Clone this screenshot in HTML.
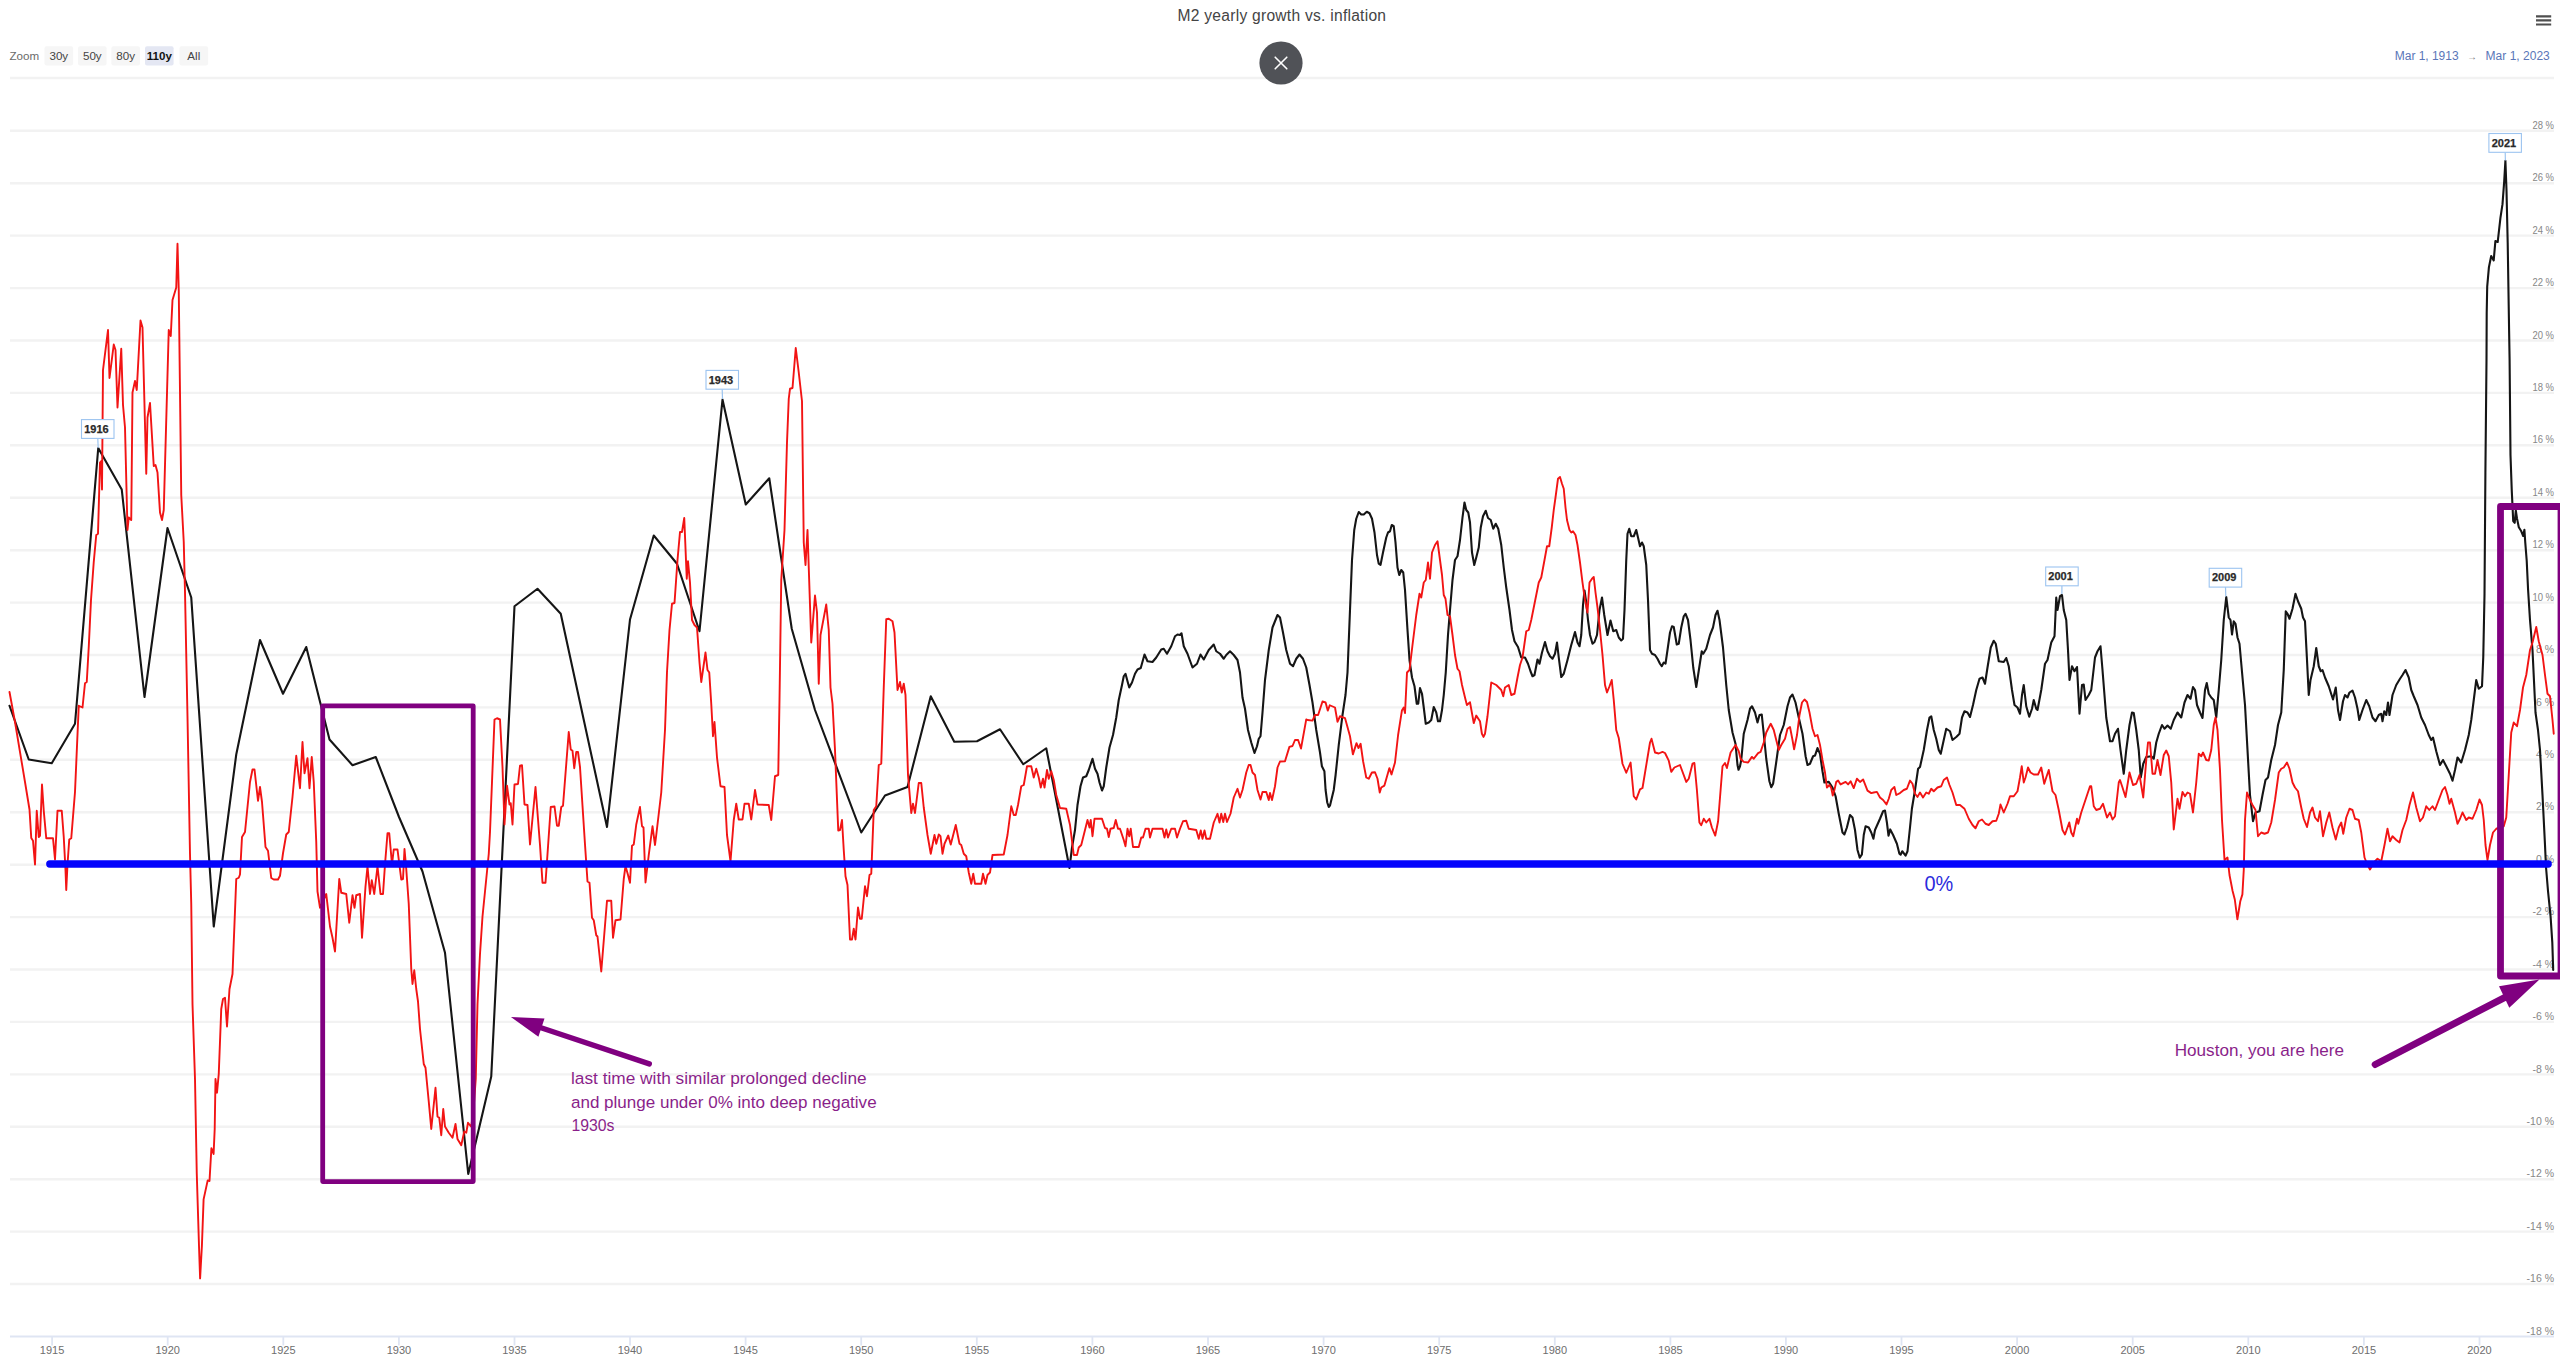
<!DOCTYPE html>
<html lang="en"><head><meta charset="utf-8"><title>M2 yearly growth vs. inflation</title>
<style>html,body{margin:0;padding:0;background:#fff;}body{width:2560px;height:1368px;overflow:hidden;}svg{display:block;font-family:"Liberation Sans", sans-serif;}</style>
</head><body>
<svg width="2560" height="1368" viewBox="0 0 2560 1368">
<rect x="0" y="0" width="2560" height="1368" fill="#ffffff"/>
<g stroke="#f2f2f2" stroke-width="2.4" fill="none">
<line x1="10" y1="78" x2="2554" y2="78"/>
<line x1="10" y1="130.8" x2="2554" y2="130.8"/>
<line x1="10" y1="183.2" x2="2554" y2="183.2"/>
<line x1="10" y1="235.6" x2="2554" y2="235.6"/>
<line x1="10" y1="288.1" x2="2554" y2="288.1"/>
<line x1="10" y1="340.5" x2="2554" y2="340.5"/>
<line x1="10" y1="392.9" x2="2554" y2="392.9"/>
<line x1="10" y1="445.3" x2="2554" y2="445.3"/>
<line x1="10" y1="497.7" x2="2554" y2="497.7"/>
<line x1="10" y1="550.2" x2="2554" y2="550.2"/>
<line x1="10" y1="602.6" x2="2554" y2="602.6"/>
<line x1="10" y1="655.0" x2="2554" y2="655.0"/>
<line x1="10" y1="707.4" x2="2554" y2="707.4"/>
<line x1="10" y1="759.8" x2="2554" y2="759.8"/>
<line x1="10" y1="812.3" x2="2554" y2="812.3"/>
<line x1="10" y1="864.7" x2="2554" y2="864.7"/>
<line x1="10" y1="917.1" x2="2554" y2="917.1"/>
<line x1="10" y1="969.5" x2="2554" y2="969.5"/>
<line x1="10" y1="1021.9" x2="2554" y2="1021.9"/>
<line x1="10" y1="1074.4" x2="2554" y2="1074.4"/>
<line x1="10" y1="1126.8" x2="2554" y2="1126.8"/>
<line x1="10" y1="1179.2" x2="2554" y2="1179.2"/>
<line x1="10" y1="1231.6" x2="2554" y2="1231.6"/>
<line x1="10" y1="1284.0" x2="2554" y2="1284.0"/>
</g>
<g stroke="#dfe5f3" stroke-width="1.8" fill="none">
<line x1="10" y1="1336.5" x2="2554" y2="1336.5"/>
<line x1="52.1" y1="1336.5" x2="52.1" y2="1345.5"/>
<line x1="167.7" y1="1336.5" x2="167.7" y2="1345.5"/>
<line x1="283.3" y1="1336.5" x2="283.3" y2="1345.5"/>
<line x1="398.9" y1="1336.5" x2="398.9" y2="1345.5"/>
<line x1="514.5" y1="1336.5" x2="514.5" y2="1345.5"/>
<line x1="630.0" y1="1336.5" x2="630.0" y2="1345.5"/>
<line x1="745.6" y1="1336.5" x2="745.6" y2="1345.5"/>
<line x1="861.2" y1="1336.5" x2="861.2" y2="1345.5"/>
<line x1="976.8" y1="1336.5" x2="976.8" y2="1345.5"/>
<line x1="1092.4" y1="1336.5" x2="1092.4" y2="1345.5"/>
<line x1="1208.0" y1="1336.5" x2="1208.0" y2="1345.5"/>
<line x1="1323.6" y1="1336.5" x2="1323.6" y2="1345.5"/>
<line x1="1439.2" y1="1336.5" x2="1439.2" y2="1345.5"/>
<line x1="1554.8" y1="1336.5" x2="1554.8" y2="1345.5"/>
<line x1="1670.4" y1="1336.5" x2="1670.4" y2="1345.5"/>
<line x1="1785.9" y1="1336.5" x2="1785.9" y2="1345.5"/>
<line x1="1901.5" y1="1336.5" x2="1901.5" y2="1345.5"/>
<line x1="2017.1" y1="1336.5" x2="2017.1" y2="1345.5"/>
<line x1="2132.7" y1="1336.5" x2="2132.7" y2="1345.5"/>
<line x1="2248.3" y1="1336.5" x2="2248.3" y2="1345.5"/>
<line x1="2363.9" y1="1336.5" x2="2363.9" y2="1345.5"/>
<line x1="2479.5" y1="1336.5" x2="2479.5" y2="1345.5"/>
</g>
<g font-size="11" fill="#6e6e6e" text-anchor="middle">
<text x="52.1" y="1354.3">1915</text>
<text x="167.7" y="1354.3">1920</text>
<text x="283.3" y="1354.3">1925</text>
<text x="398.9" y="1354.3">1930</text>
<text x="514.5" y="1354.3">1935</text>
<text x="630.0" y="1354.3">1940</text>
<text x="745.6" y="1354.3">1945</text>
<text x="861.2" y="1354.3">1950</text>
<text x="976.8" y="1354.3">1955</text>
<text x="1092.4" y="1354.3">1960</text>
<text x="1208.0" y="1354.3">1965</text>
<text x="1323.6" y="1354.3">1970</text>
<text x="1439.2" y="1354.3">1975</text>
<text x="1554.8" y="1354.3">1980</text>
<text x="1670.4" y="1354.3">1985</text>
<text x="1785.9" y="1354.3">1990</text>
<text x="1901.5" y="1354.3">1995</text>
<text x="2017.1" y="1354.3">2000</text>
<text x="2132.7" y="1354.3">2005</text>
<text x="2248.3" y="1354.3">2010</text>
<text x="2363.9" y="1354.3">2015</text>
<text x="2479.5" y="1354.3">2020</text>
</g>
<g font-size="10.5" fill="#878787" text-anchor="end">
<text x="2554" y="128.9" textLength="21.6" lengthAdjust="spacingAndGlyphs">28 %</text>
<text x="2554" y="181.3" textLength="21.6" lengthAdjust="spacingAndGlyphs">26 %</text>
<text x="2554" y="233.7" textLength="21.6" lengthAdjust="spacingAndGlyphs">24 %</text>
<text x="2554" y="286.2" textLength="21.6" lengthAdjust="spacingAndGlyphs">22 %</text>
<text x="2554" y="338.6" textLength="21.6" lengthAdjust="spacingAndGlyphs">20 %</text>
<text x="2554" y="391.0" textLength="21.6" lengthAdjust="spacingAndGlyphs">18 %</text>
<text x="2554" y="443.4" textLength="21.6" lengthAdjust="spacingAndGlyphs">16 %</text>
<text x="2554" y="495.8" textLength="21.6" lengthAdjust="spacingAndGlyphs">14 %</text>
<text x="2554" y="548.3" textLength="21.6" lengthAdjust="spacingAndGlyphs">12 %</text>
<text x="2554" y="600.7" textLength="21.6" lengthAdjust="spacingAndGlyphs">10 %</text>
<text x="2554" y="653.1">8 %</text>
<text x="2554" y="705.5">6 %</text>
<text x="2554" y="757.9">4 %</text>
<text x="2554" y="810.4">2 %</text>
<text x="2554" y="862.8">0 %</text>
<text x="2554" y="915.2">-2 %</text>
<text x="2554" y="967.6">-4 %</text>
<text x="2554" y="1020.0">-6 %</text>
<text x="2554" y="1072.5">-8 %</text>
<text x="2554" y="1124.9">-10 %</text>
<text x="2554" y="1177.3">-12 %</text>
<text x="2554" y="1229.7">-14 %</text>
<text x="2554" y="1282.1">-16 %</text>
<text x="2554" y="1334.6">-18 %</text>
</g>
<polyline fill="none" stroke="#151515" stroke-width="2.1" stroke-linejoin="round" stroke-linecap="round" points="9.5,705.75 28.75,759.5 51.75,763.25 75,723.75 98.25,448 121.75,489.5 144.5,697 167.5,528 191.25,597.5 213.75,926.5 236.25,754.5 260,640 283,693.75 306.25,647 329.5,739.5 352.5,765.25 375.75,757 399,817 422.5,871.5 445,952.75 468.25,1174 491.25,1076.5 514.5,606.25 537.5,588.75 560.75,613.75 607,827 630,619.5 653.75,535.5 677,563.75 699.5,631.25 722.5,399.5 745.75,504.5 769.25,478.25 791.75,628.75 815,710 861.25,832.5 885,795.5 907.5,787 930.75,696.25 954.25,741.75 977,741.25 1000,729.25 1023.25,764.25 1046.25,748.25 1069.5,868 1072,847.5 1075,830 1077.5,805 1080.5,786.25 1083,777.5 1086.25,776.25 1088.75,770 1092.5,758.75 1095,768.75 1097.5,773.75 1099.5,782.5 1102,790.5 1103.75,786.25 1106.25,767.5 1109.5,747.5 1113,735 1116.25,717.5 1118.75,700 1122,685 1123.75,676.25 1125.5,673.75 1127.5,681.25 1129.25,687.5 1132,682.5 1135,673.75 1137.5,669.5 1140.75,668 1144.5,654.5 1147.5,661.25 1152.5,662 1156.25,657.5 1161.25,649.5 1163.75,648.75 1167,653.75 1171.25,646.25 1175,636.25 1177.5,634.5 1180,635 1181.5,633.25 1183.75,646.25 1187.5,653.75 1192.5,667.5 1197,663.75 1200.5,654.5 1203.75,659.5 1208.75,650 1213.75,644.5 1216.25,651.25 1220,653.75 1223.75,658.75 1226.25,655 1230,651.25 1233.75,655 1237.5,660 1240,672.5 1242.5,697.5 1245,708.75 1248,730 1251.25,742.5 1254.5,753 1257,746.25 1258.75,738.75 1260.5,736.25 1262.5,712.5 1265,680 1267.5,660 1268.75,650 1272.5,627.5 1277.5,615 1280,617.5 1283,632.5 1286.25,650 1290,663.75 1293,666.25 1296.25,658.75 1299.5,654.5 1303,658.75 1306.25,667.5 1309.5,685 1312.5,702.5 1316.25,730 1320,752.5 1321.9,766.25 1324.4,771.25 1325.6,790 1327.25,802.5 1328.75,806.9 1330,805.6 1333.75,790 1335.6,775 1338.75,745 1342.5,715 1345.5,695 1347.5,672.5 1349.5,622.5 1352,560 1354.25,530 1356.25,518.75 1358.75,512 1361.25,514.5 1363.75,514.5 1366.75,511.75 1369.5,513.25 1372,518.75 1374.5,532.5 1377,555 1378.75,563.75 1380.5,565 1383,552.5 1386.25,537.5 1388,532.5 1390,531.25 1391.75,525 1393.75,526.25 1395.5,542.5 1397.5,567.5 1399.25,575 1401.25,570 1403.25,572.5 1405,590 1407.5,630 1409.5,660 1412,677.5 1414.5,686.25 1416.75,703.75 1418.25,703.75 1420,688 1422,693.75 1423.75,707.5 1425.75,723.75 1428.75,722.5 1431.25,720 1433.75,707 1436.25,712.5 1438,721.25 1440,721.25 1442,710 1443.75,695 1445.75,672.5 1448,635 1450,610 1452.5,580 1455,560 1457.5,556.25 1460,540 1462.5,517.5 1464.5,502.5 1466.25,510 1468.25,512.5 1470,522.5 1472,552.5 1474.25,565 1476.25,557.5 1478.75,547.5 1480.75,527.5 1483,516.25 1485.75,510.75 1488,518 1490.75,520 1493.25,528.75 1495.75,523.75 1498.25,528.75 1501.25,545 1503.75,567.5 1506.25,587.5 1509.5,610 1512,630 1514.5,641.25 1518,647 1521.25,657.5 1525,657.5 1528,663.75 1530.5,671.25 1532.5,676.25 1534.5,675 1537.5,659.5 1539.5,663.75 1542,652.5 1545,642 1547.5,651.25 1550,656.25 1552.5,658.75 1555,653.75 1557,642.5 1558.75,657.5 1561.25,677 1563.75,673.75 1567.5,660 1571.25,645 1575,632 1577.5,642.5 1579.5,646.25 1581.25,635 1583,605 1584.5,590.5 1586.25,602.5 1588,620 1590,635 1592.5,643.75 1594.5,642 1597,635 1599.5,610 1602,597.5 1604.25,615 1607.5,635 1610.5,620.5 1613.25,631.25 1616.25,630 1618.75,637.5 1621.25,640.5 1623,638.75 1624.5,610 1626.25,560 1627.5,533.75 1629.25,528.75 1631.25,536.25 1633.75,536.25 1636.25,530 1638,537.5 1640,546.25 1642,542.5 1643.75,546.25 1646.25,565 1648,600 1650,650 1652,653.75 1655,655 1657.5,658.75 1660,663.75 1661.75,666.25 1663.75,662.5 1665.5,663.75 1667.5,650 1670,632.5 1672,626.25 1673.75,627 1676.75,644.5 1678.75,643.75 1681.25,627.5 1683.75,616.25 1685.5,613.75 1688,620 1690.5,640 1693.25,667.5 1696.25,687 1699.25,667.5 1701.75,651.25 1703.25,653.75 1706.25,648.75 1710,635 1713,627.5 1715.5,615 1717.5,610.75 1719.5,620 1723,647.5 1726.25,685 1728.75,710 1732.5,732.5 1735.5,743.75 1737.5,765 1738.5,769.75 1740,766.25 1741.25,760 1743.75,733.75 1747.5,720 1750,708.75 1752,706.25 1755,712.5 1757.5,722.5 1759.5,715 1761.75,714.5 1763.75,733.75 1766.25,758.75 1769.4,781.25 1771.25,787.25 1773.1,783.75 1776.25,762 1780,735 1783.75,725 1787.5,706.25 1790,697.5 1792.5,694.5 1795.5,702.5 1798.75,717.5 1802.5,733.75 1805.6,756.25 1807.5,765 1810,763.75 1813.1,756.25 1815,755.6 1817.5,748.1 1820,753.75 1822.5,771.25 1824.4,782.5 1828.75,781.9 1832.5,787.5 1835.6,796.25 1838.75,813.75 1842.5,832.5 1844.4,834.4 1846.9,827.5 1850,815 1852.5,817.5 1855,830 1857.5,850 1859.75,857.75 1861.9,854.4 1863.75,835 1865.6,826.25 1868.75,827.5 1871.25,832.5 1873.4,838.75 1875,830 1880,818.75 1883.1,811.25 1885,810.6 1886.9,822.5 1888.5,835.6 1890.25,829.4 1893.1,835 1896.9,843.75 1899.4,853.75 1900.6,854.75 1902.25,851.25 1905.6,855.6 1907.5,851.25 1910,827.5 1911.9,808.75 1915,790 1918.1,768.75 1920,767 1923.75,750 1927,730 1929.5,717.5 1931.25,716.25 1933.75,730 1936.25,738.75 1938.75,750 1940.75,753.75 1943.75,740 1946.25,728.75 1950,731.25 1952.5,740 1956.25,737 1959.5,733.75 1962,717.5 1964.5,711.25 1967.5,712.5 1970,717 1973,705 1976.25,690 1979.5,678.75 1982.5,677.5 1985,683.75 1987.5,667.5 1990.75,647.5 1993.75,640.75 1995.75,643.75 1998.75,661.25 2003.75,662 2006.25,658 2008.75,666.25 2012,690 2014.5,705 2017.5,707.5 2020,713.75 2022,695 2023.75,685 2026.25,706.25 2029.25,716.75 2032,708.75 2033.75,700 2036.25,708.75 2037.5,710 2041.25,690 2045,663.75 2047.5,660 2051.25,642.5 2054.5,636.25 2056.25,597.5 2057.5,610 2060,596.25 2062,595 2063.75,610 2066.25,620 2068,650 2069.5,680 2072,666.25 2074.5,671.25 2077,667 2079.5,713.75 2082,685 2083.75,684.5 2085.5,700 2088.75,695 2091.25,690 2095,657.5 2097.5,651.25 2100.5,646.25 2102.5,670 2106.25,717.5 2110,741.25 2112.5,741.25 2115,733.75 2118,728.75 2120.5,750 2123.75,773.75 2126.25,750 2129.5,725 2132,712.5 2133.75,713 2136.25,730 2138.75,750 2140.75,777.5 2143.25,763.75 2146.25,757 2151.25,756.25 2153.75,758.75 2156.25,742.5 2158.75,733.75 2162,725 2164.5,728.75 2167.5,725.5 2170.75,728.75 2173.75,720 2177.5,712.5 2181.25,717.5 2184.5,702.5 2187.5,695 2190.5,698.75 2193,687 2195,690 2197,705 2200,712.5 2202.5,718 2205,690 2206.75,683 2208.75,693.75 2211.25,697.5 2213.75,700 2216.25,717.5 2218.75,690 2221.25,660 2223.75,620 2226.25,597 2228.75,617.5 2230.5,620 2232,634.5 2233.75,621.25 2235.5,623.75 2237.5,637.5 2239.5,643.75 2242.5,677.5 2245,705 2247.5,750 2250,795 2253,821.25 2255.5,812.5 2259.5,811.25 2262.5,795 2265.5,780 2268,777.5 2271.25,760 2275,745 2278,725 2281.25,712.5 2283.75,670 2285.75,611.25 2287.5,613.75 2289.5,618.75 2292.5,608.75 2295.5,593.75 2298,601.25 2301.25,608.75 2303,617.5 2305,621.25 2307,660 2308.75,695 2310.5,680 2313.75,666.25 2316.25,648 2318.75,666.25 2320.75,671.25 2322.5,670 2325,677.5 2328.75,686.25 2333,699.5 2335.75,687.5 2338,710 2340,720 2343,701.25 2345,695 2347.5,697.5 2349.5,692.5 2352.5,690.5 2355,697.5 2357.5,708.75 2359.25,720 2362.5,710 2366.25,700 2369.25,706.25 2372.5,717.5 2375.5,721.25 2378.75,715 2381.25,713.75 2382.5,721.25 2384.25,711.25 2386.25,715 2388,702.5 2389.5,715 2392.5,695 2396.25,685 2400,678.75 2402.5,675 2405.5,670 2408.75,677.5 2411.25,690 2413.75,696.25 2417.5,705 2421.25,717.5 2425,725 2428.75,735 2431.25,740 2433,737.5 2436.25,751.25 2440,765 2443,760 2446.25,766.25 2450,773.75 2452.5,780.75 2455,770 2457.5,757.5 2461.25,762.5 2465,750 2468.75,735 2471.25,720 2473.75,700 2476.25,680 2478.75,688.75 2482,686.25 2483.25,657.5 2484.5,595 2485.4,472.8 2486.5,360 2486.7,313 2487.2,286.7 2488.9,267.4 2491.2,256 2493.7,260.4 2495.4,241 2497.7,242 2500.4,218.2 2502.5,204.2 2504.2,181.4 2505.4,160.7 2506.5,190.2 2507.7,242.8 2509.1,330.5 2509.6,360 2510.5,455.3 2511.75,490.4 2512.6,507.9 2513.2,521 2514.7,522.8 2515.8,510.5 2517,518.4 2518.8,527.2 2521,530.7 2523.2,536 2524.4,529.8 2525.3,543 2526.7,560.5 2528.1,590 2530,620 2532.5,650 2535.5,712.5 2538,730 2540,750 2542.5,795 2545,845 2546,867 2548,891 2550.6,916.7 2552.3,942.5 2553.2,970"/>
<polyline fill="none" stroke="#f21414" stroke-width="1.9" stroke-linejoin="round" stroke-linecap="round" points="9.5,692 15,722 25,782 29.5,809.5 31.25,838 33,840.75 35,864.5 36.75,810.75 38.75,837 40,835.75 42,784.5 43.75,810.75 46.25,838.25 53,838.25 55,859.5 57.5,810.75 61.75,810.75 63.75,837 65.5,870 66.25,890 67.5,864.5 69.25,839.5 71.25,838.25 75,792 78.75,705.75 82.5,707.5 85,683.25 86.75,682 88.75,647 91,600 93.75,562 96.25,535 98,533.75 100,462.5 101.25,461 102,489.5 103,370 108,330 109.5,378 113.75,344.5 115.5,350 117.5,407.5 121.25,348.75 123,405 125,427.5 127.5,530 128.75,517.5 131.25,520 132.5,392.5 135,381 136.75,390 140.5,320.5 142.5,327.5 146.25,473.75 147.5,417.5 150,403 153.75,466 155.5,465 157.5,472.5 160,512.5 162,520 163.75,510 168.75,330 170.75,336 172.5,300 176.25,287.5 177.5,243.75 178.75,290 181.25,495 183.75,542 185,592 187.5,717 190,854 191.25,904 192.5,1004 195,1079 196.75,1173 199,1246 200.1,1278.4 201.9,1246 203.6,1199.4 207.7,1180.4 209.5,1181 211.4,1148.2 213.6,1154 214.7,1129 215.5,1079 217,1092.75 218.75,1074 221.25,1009 223,999 225,997.75 227,1026.5 229.5,989 232.5,974 236.25,879 238.75,877.75 240,874.5 242,837 245,832 250,782 252.5,769.5 254.5,769.5 258,800.75 260,787 262,802 265.5,847 268,850.75 271.25,878 273.75,879.5 278,879.5 280,875.75 283,853.25 286.25,834.5 288.75,832 292.5,797 296.25,755.75 300,788.25 302.5,742 304.5,773.25 307.5,758.25 309.5,788.25 311.75,757 313.75,782 316.25,842 317.5,891.5 320,907.75 326.25,894 330,926.5 332.5,937.75 335,951.5 339.25,879 341.25,892.75 346.25,894 349.25,922.75 352.5,895.25 354.5,907.75 356.25,895.25 360,894 362,937.75 365.5,886.5 367.5,866.5 370,894 371.75,880.25 374.25,894 377.5,866.5 380.5,894 383,894 385,864.5 387.5,833.25 389.25,833.25 392,864.5 393.75,849.5 397.5,849.5 401.25,879.5 403,879 404.5,849 406.25,869 408.75,904 411.25,969 412.5,984 414.25,970.25 416.25,989 418,1001.5 420,1029 423.75,1064 425.5,1067.75 428.75,1101.5 431.25,1129 435.5,1087.75 437.5,1116.5 439.25,1117.75 441.25,1135.25 443.25,1109 445,1126.5 448.75,1132.75 452.5,1137.75 455.5,1124 457.5,1139 461.25,1145.25 464.25,1131.5 466.25,1132.75 468,1122.75 470,1125.25 471.25,1126.5 473.5,1110 475.75,1079 477.5,1004 480,954 482.5,916.5 486.25,879 488.75,854 490,832 494.5,719.5 497,718.25 500,719.5 502.5,767 504.5,824.5 507,785.75 509.5,804.5 510.75,803.25 512.5,824.5 514.5,784.5 518,784 520,765.75 522,765.25 524.5,804.5 527.5,805 530,844.5 535.5,787 540,845 542.5,882.75 545.5,882.75 547.5,854 550.75,807 554.5,806.5 557,825.75 558.75,825.75 561.25,807 563,805.75 568.75,732 570.75,749.5 572.5,750.75 574.25,768.25 576.25,752 578,752 580,767 585,844.5 587.5,881.5 589.5,882.75 592,917.75 593.75,920.25 596.25,935.25 597.5,936.5 601.25,971.5 607,900.75 611.25,900.75 613,937.75 615.5,920.25 620.5,919.5 623.75,879 625.5,866 628,875 630,882.75 631,864 632,845.75 633.75,844.5 636.25,824.5 640,807 640,807.5 642,826.25 643.5,827.5 645.5,882.5 648.75,855 652.5,826.25 655,845 656.25,835 661.25,792.5 665,730 667,672 669.5,630 672,603.75 674.5,603 677.5,560 680,532 682,532 684.25,518 686.75,578.75 688,561.25 690,582.5 692,620 694.5,625 697,627.5 699.5,662.5 701.25,682 705.5,652.5 707.5,670 709.25,672.5 711.25,703.75 713,736.25 714.5,722 717,757.5 720.5,786.25 724.5,787 727,835 730.5,861.25 733.75,820 736.25,803.75 738.75,819.5 742.5,819.5 744.5,803.75 748.75,803.75 751.25,819.5 755,790 757.5,804.5 768.75,805 771.25,820 775,776.25 778.25,775 779.5,700 781.25,580 784.5,530 787,442.5 788.75,398.75 790,388.75 792.5,388 795.75,348 798.75,372.5 802,401.25 803.75,542.5 805.5,565 807.5,530 811.25,642.5 815,595.5 817,612.5 818.75,683.75 820.5,635 826.25,604.5 828.75,630 830.5,687.5 832.5,703.75 835,750 838.25,830.5 840,830 842,820 843.75,850 845.5,876.25 847.5,885 850,939.5 852,939.5 853.75,928.75 855.5,939.5 858,907.5 860,918.75 861.75,918.75 865,886.25 867,896.25 869.5,875 871.25,873.75 873.75,810 876.25,806.25 878.75,765 881.25,763.75 883.75,687.5 886.25,619.25 888.75,618.75 892.5,621.25 894.5,632.5 897.5,690 900,682 901.75,692.5 903.75,683.75 905.5,695 908,775 911.25,813 913,803.75 915,813 918.75,783 921.25,783 923.75,807.5 927.5,835 930.75,853.75 934.5,835 936.25,843.75 938.75,834.5 940.5,836.25 942.5,853.75 944.5,843.75 948.25,835.5 950.75,844.5 955.75,825 959.5,843.75 961.25,845 963.75,853.75 966.25,856.25 968.75,872.5 971.25,883.75 973.25,873.75 975,883.75 981.25,883.75 983,873.75 985.5,883.75 987.5,875 990,872.5 992.5,855 1003.75,854.5 1007.5,835 1011.25,806.25 1013.75,815 1015.75,815 1018,805 1021.25,786.25 1023.75,785 1027,766.25 1031.25,766.25 1033.75,777.5 1036.25,768.75 1038.75,777.5 1040.75,787.5 1043,778.75 1044.5,787.5 1047,770 1048.75,778.75 1051.25,771.25 1053.75,780 1056.25,795 1060,808 1066.25,808.75 1070,825 1073.75,855 1077,855 1078.75,847.5 1081.25,845 1087.5,820 1089.5,827.5 1090.75,820 1092.5,836.25 1094.5,818.75 1102,818.75 1105,828 1107,828.75 1108.75,837 1110.5,828.75 1113.75,828 1115.75,820 1118,828.75 1120,828.75 1123.75,840 1125.5,846.25 1127.5,828.75 1129.25,836.25 1130.75,828.75 1133,847 1138.75,847 1141.25,837.5 1143,837.5 1145.5,828.75 1148.75,828.75 1150,837.5 1152.5,828.75 1162.5,828.75 1164.5,837.5 1166.25,829.5 1168,837.5 1171.25,828.75 1175,828.75 1177,837.5 1180,828.75 1183,821.25 1186.25,820.75 1188.75,828.75 1196.25,830 1198.75,838.75 1200.75,830.5 1202.5,838.75 1204.5,830.5 1206.25,838.75 1210,838.75 1213.75,822.5 1217.5,813.75 1219.5,822.5 1221.25,813.75 1223.25,822 1225,813.75 1227,822 1230.5,813.75 1233.75,797.5 1237.5,788.75 1240,797.5 1242.5,790 1246.25,772.5 1248.75,765 1250.5,765 1252.5,772.5 1255,775 1257.5,790 1260.5,799.5 1262.5,792 1266.25,792 1268.75,800 1270,793 1272,800 1275,786.25 1277.5,767.5 1280,761.5 1285,761.25 1289.4,746.9 1292.5,746 1295,740 1298.1,740 1301,748.5 1306.25,719.4 1307.5,720 1312.5,720.6 1315,715 1318.1,715 1322.5,701.5 1325.6,702.5 1327.75,710.6 1329.75,705.25 1335,707.5 1337.5,721.9 1340,716.25 1345,718.1 1350,736.25 1352.9,754.4 1356.5,743.1 1358.5,748.1 1360.6,743.75 1363.1,761.25 1366.25,777.5 1368.75,778.75 1371.9,772.5 1375,772.25 1377.5,778.75 1379.75,792.5 1381.25,787.5 1384.4,785.6 1389.4,768.1 1391.5,774.4 1395,762.5 1398.1,735 1401.9,710.6 1403.75,707.5 1405,713.1 1407,672.5 1409.5,670 1412.5,645 1416.25,615 1419.5,593.75 1421.25,597.5 1423.75,582.5 1425.75,580 1428,562.5 1430,578.75 1432,552.5 1435,545 1437.5,541.25 1440,560 1442,575 1443.75,595 1445.5,598.75 1447.5,615 1450,616.25 1452.5,635 1455,655 1457.5,668.75 1459.5,671.25 1462,685 1465,697.5 1466.9,705 1470,702.25 1473.75,723.1 1476.25,715.6 1480,721.25 1481.9,733.75 1483.5,736.9 1485,733.75 1487.5,716.25 1488.75,705 1491.25,682.5 1493.75,683.75 1496.25,685 1498.75,687.5 1501.25,690 1503.25,696.25 1505,687.5 1508.75,685 1511.25,695 1514.5,693.75 1517.5,677.5 1520,665 1522.5,657.5 1526.25,631.25 1528.75,630 1531.25,620 1533.75,607.5 1536.25,595 1538.75,582.5 1541.25,577.5 1544.5,560 1547,546.25 1549.25,546.25 1551.75,527.5 1553.75,510 1555.5,497.5 1558,478.75 1560,477 1562,483.75 1563.75,488.75 1565.5,507.5 1567,520 1569.5,530 1571.25,532.5 1573,531.25 1575.5,535 1577.5,545 1580,562.5 1582.5,582.5 1585,600 1587.5,612.5 1589.5,582.5 1592,578.75 1593.75,577 1595.5,592.5 1597.5,607.5 1600,630 1602.5,655 1605,685 1607,692.5 1609.5,686.25 1611.75,680 1613.75,700 1616.25,730 1618.75,738 1622.5,763.75 1626.25,772.75 1630.6,762.5 1633.75,796.25 1636.25,799.4 1640,789.4 1642.5,788 1650,742.5 1651.5,738.75 1655,752.5 1658.75,753.5 1662.5,751.9 1665,753 1668.75,760.6 1671.25,771.9 1674.4,767.5 1680,765 1686.25,781.9 1688.75,778.75 1692.5,763.75 1694.4,763 1696.9,790 1699.4,822.5 1701.25,825.25 1703.75,818.75 1706.25,822.5 1709.4,818.75 1711.9,827.5 1715.25,835.6 1718.1,821.25 1720.6,790 1722.5,766.25 1725,763 1726.9,768 1730.6,752.5 1735.6,745 1738.75,751.25 1740.6,758.75 1743.75,761.9 1748.1,762.5 1751.9,756.9 1753.75,758.75 1758.1,753.1 1760.6,751.9 1763.75,742.5 1766.25,732.5 1768.75,727.5 1770.75,723.75 1773.75,730 1776.25,740 1778.75,750 1781.25,745 1785,738.75 1787.5,728.75 1790,727 1792.5,740 1794.1,749.4 1797,735 1799.5,715 1802,702.5 1804.5,699.5 1807,702 1809.5,712.5 1812.5,728.75 1815,736.25 1817.5,735 1820,745 1822.5,760 1825,772.5 1826.9,787.5 1829.4,785 1831.25,788.1 1832.75,795.6 1834.4,790 1836.25,781.9 1838.1,780.6 1840.6,784.4 1845.6,781.9 1848.1,784.4 1850.6,781.25 1853.75,788.1 1856.9,778.75 1860,781.9 1863.1,779.4 1867.5,790.6 1871.25,793.1 1873.75,792.5 1876.9,791.9 1880,797.5 1883.1,800 1886.5,804.4 1888.75,798.75 1891.25,790 1894.4,786.9 1896.25,795 1900,793.1 1903.75,790 1906.9,788.75 1910,780.6 1912.5,783.75 1915,793.75 1917.5,796.9 1920,792.5 1923,797.5 1926.25,792.5 1928.75,793.75 1931.25,788.75 1933.75,791.25 1937.5,787.5 1941.25,786.25 1943.75,780 1947,777.5 1949.5,785 1952.5,792.5 1956.25,805 1960,805 1964.5,808.75 1968.75,818.75 1972.5,825 1975.5,828.25 1978.75,821.25 1982,819.5 1985.5,823.75 1988.75,825 1992.5,821.25 1996.25,820.75 1998.75,813.75 2000.5,804.5 2003.75,812.5 2007.5,803.75 2010,796.25 2013.75,796.25 2017.5,791.25 2020,777.5 2021.75,766.25 2023.75,782.5 2025.5,777.5 2028,767.5 2030.5,772.5 2033.75,774.5 2038,774.5 2041.25,767.5 2044.25,783.75 2046.25,777.5 2048.75,770 2052.5,791.25 2055.5,795 2058.75,810 2062.5,830 2065,834.5 2069.25,822.5 2071.25,832.5 2073.25,836.25 2077,818.75 2078.25,823.75 2081.25,812.5 2086.25,797.5 2090,786.25 2091.25,786.25 2093.75,806.25 2096.25,810 2100,808.75 2103,803.75 2107,817.5 2110,812.5 2112.5,819.5 2115,816.25 2118.75,782.5 2120,780 2122.5,787.5 2125.5,797 2129.5,772.5 2133,785 2136.25,783.75 2139.5,775 2143.25,797.5 2146.25,760 2148,742.5 2150,742.5 2152.5,773.75 2155,773.75 2157.5,760 2160.5,775 2163.75,755 2166.25,750.5 2168.75,756.25 2171.25,782.5 2173.75,829.5 2177.5,798.75 2179.5,808.75 2182.5,792 2185,796.25 2187.5,792.5 2190,793.75 2193,812.5 2196.25,782.5 2198.75,753.75 2201.25,756.25 2203,752.5 2206.25,760 2208.75,760.5 2211.25,750 2213.75,725 2215.5,717.5 2217.5,730 2220,770 2222,820 2224.5,860 2227.5,857.5 2229.5,875 2232.6,891 2234.8,899.5 2237.4,919.3 2240.3,901.25 2242.4,894.4 2243.75,870.3 2245,820 2247,792.5 2250,800 2252.5,805 2255.5,810 2258,836.25 2261.25,832.5 2264.5,833.75 2268,832.5 2271.25,822.5 2275,800 2278.75,772.5 2281.25,768.75 2283.75,767.5 2287,762.5 2289.5,768.75 2292.5,782.5 2295,787.5 2298,791.25 2301.25,807.5 2303.75,818.75 2307,827 2310,812.5 2312.5,807.5 2315,817.5 2318,821.25 2320,811.25 2323,836.25 2326.25,822.5 2329.25,812.5 2332.5,827.5 2335.75,839.5 2338.75,827.5 2341.25,822.5 2343.25,833.75 2346.25,817.5 2349.5,808.75 2352.5,810 2355,818.75 2358.75,820 2361.25,832.5 2364.5,857.5 2367.5,865 2370,869.5 2373.75,862.5 2377.5,858.75 2381.25,861.25 2384.5,845 2387.5,828.75 2390,841.25 2392.5,836.25 2396.25,840 2399.5,842.5 2402.5,830 2406.25,820 2409.5,805 2413,792.5 2416.25,807.5 2420,821.25 2423,817.5 2426.25,806.25 2429.25,810 2432.5,806.25 2435,810 2438.75,800 2442.5,790 2445,787 2447.5,795 2449.5,803.75 2451.25,798.75 2455,812.5 2457.5,823.75 2460,818.75 2462.5,812.5 2466.25,820 2468.75,817.5 2472.5,818.75 2476.25,810 2479.5,799.5 2482,805 2483.75,820 2485.5,845 2487.5,860 2490,845 2493,832.5 2496.25,828.75 2503.75,826.25 2506.25,817.5 2508.75,775 2511.25,732.5 2513.75,722.5 2517,726.25 2520,710 2523,687.5 2526.25,675 2530,650 2532.5,642.5 2536.25,627 2538.75,641.25 2542.5,655 2545,675 2547.5,693.75 2550,696.25 2552.5,720 2553.75,733.75"/>
<path d="M97.8 438.4 L98.2 448.0" stroke="#9cc4f0" stroke-width="1.2" fill="none"/>
<rect x="81.5" y="419.6" width="32.5" height="18.8" fill="#ffffff" stroke="#9cc4f0" stroke-width="1.1"/>
<text x="96.5" y="432.7" font-size="11" font-weight="bold" fill="#2a2a2a" stroke="#2a2a2a" stroke-width="0.25" text-anchor="middle">1916</text>
<path d="M722.2 389.2 L722.5 399.0" stroke="#9cc4f0" stroke-width="1.2" fill="none"/>
<rect x="706.0" y="370.4" width="32.5" height="18.8" fill="#ffffff" stroke="#9cc4f0" stroke-width="1.1"/>
<text x="721.0" y="383.5" font-size="11" font-weight="bold" fill="#2a2a2a" stroke="#2a2a2a" stroke-width="0.25" text-anchor="middle">1943</text>
<path d="M2061.9 585.8 L2061.9 594.0" stroke="#9cc4f0" stroke-width="1.2" fill="none"/>
<rect x="2045.7" y="567.0" width="32.5" height="18.8" fill="#ffffff" stroke="#9cc4f0" stroke-width="1.1"/>
<text x="2060.6" y="580.1" font-size="11" font-weight="bold" fill="#2a2a2a" stroke="#2a2a2a" stroke-width="0.25" text-anchor="middle">2001</text>
<path d="M2225.5 587.1 L2225.8 596.5" stroke="#9cc4f0" stroke-width="1.2" fill="none"/>
<rect x="2209.2" y="568.3" width="32.5" height="18.8" fill="#ffffff" stroke="#9cc4f0" stroke-width="1.1"/>
<text x="2224.2" y="581.4" font-size="11" font-weight="bold" fill="#2a2a2a" stroke="#2a2a2a" stroke-width="0.25" text-anchor="middle">2009</text>
<path d="M2505.2 152.3 L2505.4 160.5" stroke="#9cc4f0" stroke-width="1.2" fill="none"/>
<rect x="2488.9" y="133.5" width="32.5" height="18.8" fill="#ffffff" stroke="#9cc4f0" stroke-width="1.1"/>
<text x="2503.9" y="146.6" font-size="11" font-weight="bold" fill="#2a2a2a" stroke="#2a2a2a" stroke-width="0.25" text-anchor="middle">2021</text>
<rect x="322.7" y="705.8" width="150.5" height="475.8" fill="none" stroke="#800080" stroke-width="4.8" stroke-linejoin="round"/>
<rect x="2500.5" y="506.5" width="60.5" height="469.5" fill="none" stroke="#800080" stroke-width="6.8" stroke-linejoin="round"/>
<line x1="49.8" y1="864" x2="2548.2" y2="864" stroke="#0303fc" stroke-width="7.3" stroke-linecap="round"/>
<line x1="649.3" y1="1063.9" x2="541" y2="1027.8" stroke="#800080" stroke-width="5.4" stroke-linecap="round"/>
<polygon points="510.9,1017 544.5,1018.4 538.4,1036.8" fill="#800080"/>
<line x1="2375.2" y1="1064.5" x2="2505" y2="997.3" stroke="#800080" stroke-width="7" stroke-linecap="round"/>
<polygon points="2539.4,979.5 2499,986.3 2509.3,1007.8" fill="#800080"/>
<g font-size="16.9" fill="#8a1f8a">
<text x="571" y="1084.2" textLength="295.6" lengthAdjust="spacingAndGlyphs">last time with similar prolonged decline</text>
<text x="571" y="1107.7" textLength="305.6" lengthAdjust="spacingAndGlyphs">and plunge under 0% into deep negative</text>
<text x="571.5" y="1131.3" textLength="43" lengthAdjust="spacingAndGlyphs">1930s</text>
<text x="2174.7" y="1056" textLength="169.3" lengthAdjust="spacingAndGlyphs">Houston, you are here</text>
</g>
<text x="1924.4" y="891.4" font-size="22.9" fill="#2b2bdc" textLength="28.8" lengthAdjust="spacingAndGlyphs">0%</text>
<text x="1281.8" y="21" font-size="15.6" fill="#444" text-anchor="middle" textLength="208.5" lengthAdjust="spacing">M2 yearly growth vs. inflation</text>
<circle cx="1281" cy="63" r="21.6" fill="#505257"/>
<path d="M1275.2 57.2 L1286.8 68.8 M1286.8 57.2 L1275.2 68.8" stroke="#fff" stroke-width="1.6" fill="none" stroke-linecap="round"/>
<path d="M2536 16.3 H2551.2 M2536 20.4 H2551.2 M2536 24.5 H2551.2" stroke="#4f4f4f" stroke-width="2.2" fill="none"/>
<text x="9.5" y="60" font-size="11.6" fill="#6a6a6a">Zoom</text>
<rect x="44.5" y="46.3" width="28.6" height="19.2" rx="2" fill="#f6f6f6"/>
<text x="58.8" y="60" font-size="11.6" fill="#444" text-anchor="middle">30y</text>
<rect x="78.0" y="46.3" width="28.6" height="19.2" rx="2" fill="#f6f6f6"/>
<text x="92.3" y="60" font-size="11.6" fill="#444" text-anchor="middle">50y</text>
<rect x="111.4" y="46.3" width="28.6" height="19.2" rx="2" fill="#f6f6f6"/>
<text x="125.7" y="60" font-size="11.6" fill="#444" text-anchor="middle">80y</text>
<rect x="145.0" y="46.3" width="28.6" height="19.2" rx="2" fill="#e4e7f3"/>
<text x="159.3" y="60" font-size="11.6" fill="#111" text-anchor="middle" font-weight="bold">110y</text>
<rect x="179.5" y="46.3" width="28.6" height="19.2" rx="2" fill="#f6f6f6"/>
<text x="193.8" y="60" font-size="11.6" fill="#444" text-anchor="middle">All</text>
<g font-size="12" fill="#5a76b8">
<text x="2394.8" y="60.2" textLength="63.8" lengthAdjust="spacing">Mar 1, 1913</text>
<text x="2485.6" y="60.2" textLength="64.2" lengthAdjust="spacing">Mar 1, 2023</text>
</g>
<text x="2472" y="59.6" font-size="10" fill="#7a7a7a" text-anchor="middle">→</text>
</svg>
</body></html>
